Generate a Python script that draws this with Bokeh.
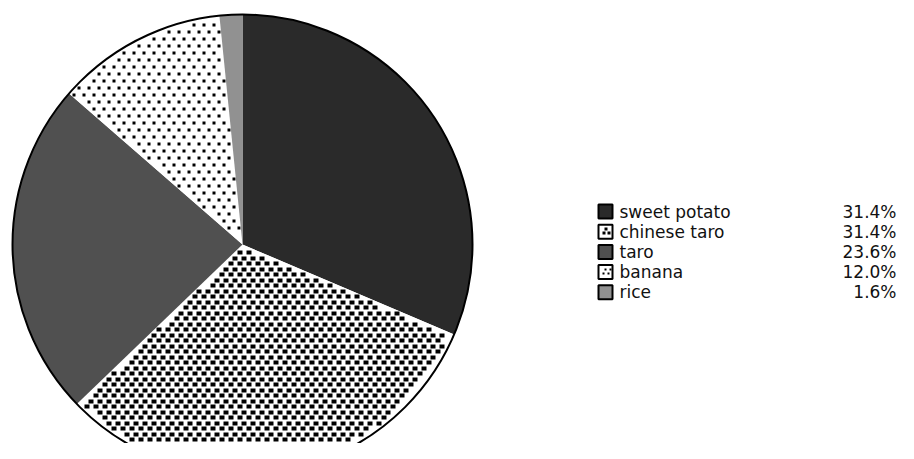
import numpy as np
from bokeh.plotting import figure
from bokeh.models import Range1d
from bokeh.core.properties import value
from bokeh.embed import file_html
from bokeh.resources import INLINE

labels = ["sweet potato", "chinese taro", "taro", "banana", "rice"]
shares = [31.4, 31.4, 23.6, 12.0, 1.6]
colors = ["#2a2a2a", "white", "#505050", "white", "#919191"]
patterns = [None, "dense", None, "sparse", None]

# texture styles: (cell width, cell height, x period, y period)
textures = {"dense": (5, 4, 9, 5.5), "sparse": (3, 3, 10, 7),
            "dense_small": (3, 3, 5, 3.5), "sparse_small": (2, 2, 5, 4)}

W, H = 898, 443
p = figure(width=W, height=H, output_backend="svg", toolbar_location=None,
           x_range=Range1d(0, W), y_range=Range1d(0, H), min_border=0)
p.axis.visible = False
p.grid.visible = False
p.outline_line_color = None


def texture_cells(inside, xmin, xmax, ymin, ymax, style):
    w, h, px, py = textures[style]
    L, Rt, B, T = [], [], [], []
    for j, y0 in enumerate(np.arange(ymin, ymax, py)):
        off = px / 2 if j % 2 else 0
        for x0 in np.arange(xmin + off, xmax, px):
            l, r = np.floor(x0), np.floor(x0 + w)
            b, t = np.floor(y0), np.floor(y0 + h)
            if all(inside(cx_, cy_) for cx_ in (l, r) for cy_ in (b, t)):
                L.append(l); Rt.append(r); B.append(b); T.append(t)
    return L, Rt, B, T


cx, cy, R = 242, H - 244, 230
fr = np.array(shares) / sum(shares)
ends = 90 - 360 * np.cumsum(fr)
starts = np.concatenate([[90], ends[:-1]])

for i in range(len(labels)):
    p.wedge(x=cx, y=cy, radius=R, start_angle=starts[i], end_angle=ends[i],
            start_angle_units="deg", end_angle_units="deg", direction="clock",
            fill_color=colors[i], line_color=None)
    if patterns[i]:
        s, e = starts[i], ends[i]

        def inside(x, y, s=s, e=e):
            dx, dy = x - cx, y - cy
            if np.hypot(dx, dy) > R - 1.5:
                return False
            th = np.degrees(np.arctan2(dy, dx))
            return ((s - th) % 360) <= (s - e)

        L, Rt, B, T = texture_cells(inside, cx - R, cx + R, cy - R, cy + R, patterns[i])
        p.quad(left=L, right=Rt, bottom=B, top=T, fill_color="black", line_color=None)
p.circle(x=cx, y=cy, radius=R, fill_color=None, line_color="black", line_width=2)

# legend
n = len(labels)
ly = [H - (211 + 20.2 * i) for i in range(n)]
lx, ls = 605, 14
for i in range(n):
    p.rect(x=lx, y=ly[i], width=ls, height=ls, fill_color=colors[i],
           line_color="black", line_width=2)
    if patterns[i]:
        x0, x1 = lx - ls / 2 + 1.5, lx + ls / 2 - 1
        y0, y1 = ly[i] - ls / 2 + 1.5, ly[i] + ls / 2 - 1

        def inside_box(x, y, x0=x0, x1=x1, y0=y0, y1=y1):
            return x0 <= x <= x1 and y0 <= y <= y1

        L, Rt, B, T = texture_cells(inside_box, x0, x1, y0, y1, patterns[i] + "_small")
        p.quad(left=L, right=Rt, bottom=B, top=T, fill_color="black", line_color=None)
p.text(x=[619] * n, y=ly, text=labels, text_font=value("DejaVu Sans"),
       text_font_size="17px", text_baseline="middle", text_color="#111111")
p.text(x=[896] * n, y=ly, text=[f"{s:.1f}%" for s in shares], text_font=value("DejaVu Sans"),
       text_font_size="17px", text_baseline="middle", text_align="right", text_color="#111111")

open("out.html", "w").write(file_html(p, INLINE))
